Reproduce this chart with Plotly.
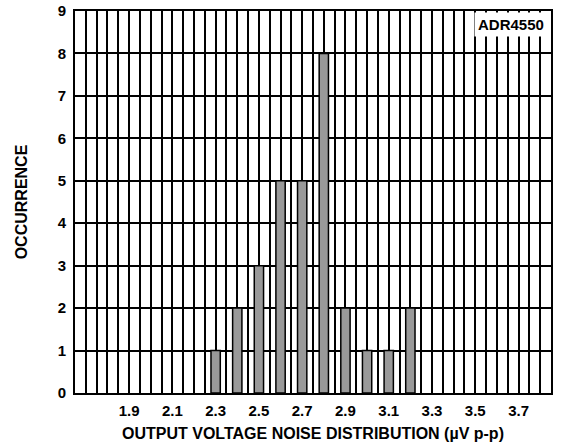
import numpy as np
import plotly.graph_objects as go

# Histogram of output voltage noise (µV p-p)
noise_bins = [2.3, 2.4, 2.5, 2.6, 2.7, 2.8, 2.9, 3.0, 3.1, 3.2]
occurrence = [1, 2, 3, 5, 5, 8, 2, 1, 1, 2]
x_labels = ["1.9", "2.1", "2.3", "2.5", "2.7", "2.9", "3.1", "3.3", "3.5", "3.7"]

x_min, x_max, x_step = 1.65, 3.85, 0.05
grid_vals = np.round(np.arange(x_min, x_max + x_step / 2, x_step), 2)
label_set = {float(s) for s in x_labels}
grid_text = [f"{v:.1f}" if round(float(v), 2) in label_set else "" for v in grid_vals]

font_family = "Liberation Sans, Arial, sans-serif"

fig = go.Figure(
    go.Bar(
        x=noise_bins,
        y=occurrence,
        width=0.043,
        marker=dict(color="#999999", line=dict(color="#000000", width=1.5)),
    )
)

fig.update_layout(
    width=561,
    height=447,
    margin=dict(l=75, r=10, t=11, b=54),
    paper_bgcolor="white",
    plot_bgcolor="white",
    showlegend=False,
    font=dict(family=font_family, size=15, color="black", weight="bold"),
    xaxis=dict(
        range=[x_min, x_max],
        tickmode="array",
        tickvals=grid_vals,
        ticktext=grid_text,
        automargin=False,
        showgrid=True,
        gridcolor="black",
        gridwidth=1.6,
        showline=True,
        linecolor="black",
        linewidth=2,
        mirror=True,
        zeroline=False,
        ticks="",
        ticklabelstandoff=3,
        tickfont=dict(size=15, weight="bold"),
        title=dict(
            text="OUTPUT VOLTAGE NOISE DISTRIBUTION (µV p-p)",
            font=dict(size=16, weight="bold"),
            standoff=10,
        ),
    ),
    yaxis=dict(
        range=[0, 9],
        dtick=1,
        automargin=False,
        showgrid=True,
        gridcolor="black",
        gridwidth=1.6,
        showline=True,
        linecolor="black",
        linewidth=2,
        mirror=True,
        zeroline=False,
        ticks="",
        ticklabelstandoff=4,
        tickfont=dict(size=15, weight="bold"),
        title=dict(text="OCCURRENCE", font=dict(size=16, weight="bold"), standoff=26),
    ),
    annotations=[
        dict(
            text="ADR4550",
            xref="paper",
            yref="paper",
            x=0.994,
            y=0.997,
            xanchor="right",
            yanchor="top",
            showarrow=False,
            bgcolor="white",
            borderpad=3,
            font=dict(size=15, weight="bold"),
        )
    ],
)

fig.write_html("out.html")
